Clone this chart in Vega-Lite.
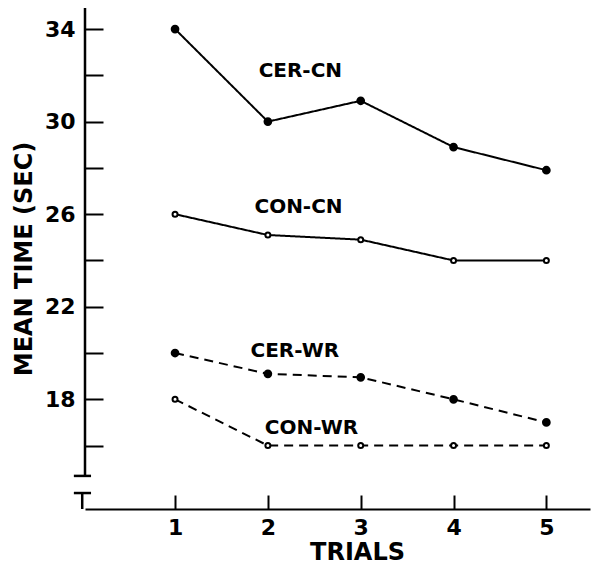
{
  "$schema": "https://vega.github.io/schema/vega-lite/v6.json",
  "autosize": "none",
  "width": 505,
  "height": 501,
  "padding": {"left": 85, "top": 8, "right": 3, "bottom": 57},
  "background": "white",
  "config": {
    "view": {"stroke": null},
    "font": "DejaVu Sans",
    "axis": {"grid": false, "domainColor": "black", "tickColor": "black", "labelColor": "black", "titleColor": "black"}
  },
  "datasets": {
    "series": [
      {"series": "CER-CN", "group": "CER", "cond": "CN", "trial": 1, "time": 34},
      {"series": "CER-CN", "group": "CER", "cond": "CN", "trial": 2, "time": 30},
      {"series": "CER-CN", "group": "CER", "cond": "CN", "trial": 3, "time": 30.9},
      {"series": "CER-CN", "group": "CER", "cond": "CN", "trial": 4, "time": 28.9},
      {"series": "CER-CN", "group": "CER", "cond": "CN", "trial": 5, "time": 27.9},
      {"series": "CON-CN", "group": "CON", "cond": "CN", "trial": 1, "time": 26},
      {"series": "CON-CN", "group": "CON", "cond": "CN", "trial": 2, "time": 25.1},
      {"series": "CON-CN", "group": "CON", "cond": "CN", "trial": 3, "time": 24.9},
      {"series": "CON-CN", "group": "CON", "cond": "CN", "trial": 4, "time": 24},
      {"series": "CON-CN", "group": "CON", "cond": "CN", "trial": 5, "time": 24},
      {"series": "CER-WR", "group": "CER", "cond": "WR", "trial": 1, "time": 20},
      {"series": "CER-WR", "group": "CER", "cond": "WR", "trial": 2, "time": 19.1},
      {"series": "CER-WR", "group": "CER", "cond": "WR", "trial": 3, "time": 18.95},
      {"series": "CER-WR", "group": "CER", "cond": "WR", "trial": 4, "time": 18},
      {"series": "CER-WR", "group": "CER", "cond": "WR", "trial": 5, "time": 17},
      {"series": "CON-WR", "group": "CON", "cond": "WR", "trial": 1, "time": 18},
      {"series": "CON-WR", "group": "CON", "cond": "WR", "trial": 2, "time": 16},
      {"series": "CON-WR", "group": "CON", "cond": "WR", "trial": 3, "time": 16},
      {"series": "CON-WR", "group": "CON", "cond": "WR", "trial": 4, "time": 16},
      {"series": "CON-WR", "group": "CON", "cond": "WR", "trial": 5, "time": 16}
    ],
    "labels": [
      {"label": "CER-CN", "trial": 2.35, "time": 32.2},
      {"label": "CON-CN", "trial": 2.33, "time": 26.3},
      {"label": "CER-WR", "trial": 2.29, "time": 20.1},
      {"label": "CON-WR", "trial": 2.47, "time": 16.75}
    ],
    "axisline": [
      {"x": 0.03, "x2": 0.03, "y": 14.69, "y2": 34.91},
      {"x": -0.09, "x2": 0.095, "y": 14.69, "y2": 14.69},
      {"x": -0.09, "x2": 0.095, "y": 13.95, "y2": 13.95},
      {"x": 0.0, "x2": 0.0, "y": 13.26, "y2": 13.95}
    ]
  },
  "encoding": {
    "x": {
      "field": "trial", "type": "quantitative",
      "scale": {"domain": [0.03, 5.47], "nice": false, "zero": false},
      "axis": {
        "values": [1, 2, 3, 4, 5], "format": "d", "title": "TRIALS",
        "tickSize": -14, "tickWidth": 2, "domainWidth": 2,
        "labelPadding": 22, "labelFontSize": 22, "labelFontWeight": "bold",
        "titleFontSize": 24, "titleFontWeight": "bold", "titlePadding": 2,
        "titleX": 272
      }
    },
    "y": {
      "field": "time", "type": "quantitative",
      "scale": {"domain": [13.26, 34.91], "nice": false, "zero": false},
      "axis": {
        "values": [16, 18, 20, 22, 24, 26, 28, 30, 32, 34],
        "labelExpr": "(datum.value - 18) % 4 === 0 ? datum.label : ''",
        "title": "MEAN TIME (SEC)", "domain": false,
        "tickSize": -18, "tickWidth": 2,
        "labelPadding": 28, "labelFontSize": 22, "labelFontWeight": "bold",
        "titleFontSize": 24, "titleFontWeight": "bold", "titlePadding": 8
      }
    }
  },
  "layer": [
    {
      "data": {"name": "axisline"},
      "mark": {"type": "rule", "color": "black", "strokeWidth": 2.5},
      "encoding": {
        "x": {"field": "x", "type": "quantitative"},
        "x2": {"field": "x2"},
        "y": {"field": "y", "type": "quantitative"},
        "y2": {"field": "y2"}
      }
    },
    {
      "data": {"name": "series"},
      "mark": {"type": "line", "color": "black", "strokeWidth": 2},
      "encoding": {
        "detail": {"field": "series"},
        "strokeDash": {
          "field": "cond", "type": "nominal",
          "scale": {"domain": ["CN", "WR"], "range": [[1, 0], [9, 6]]},
          "legend": null
        }
      }
    },
    {
      "data": {"name": "series"},
      "mark": {"type": "point", "stroke": "black", "strokeWidth": 2, "opacity": 1},
      "encoding": {
        "fill": {
          "field": "group", "type": "nominal",
          "scale": {"domain": ["CER", "CON"], "range": ["black", "white"]},
          "legend": null
        },
        "size": {
          "field": "group", "type": "nominal",
          "scale": {"domain": ["CER", "CON"], "range": [45, 25]},
          "legend": null
        }
      }
    },
    {
      "data": {"name": "labels"},
      "mark": {"type": "text", "fontSize": 20, "fontWeight": "bold", "color": "black"},
      "encoding": {"text": {"field": "label"}}
    }
  ]
}
